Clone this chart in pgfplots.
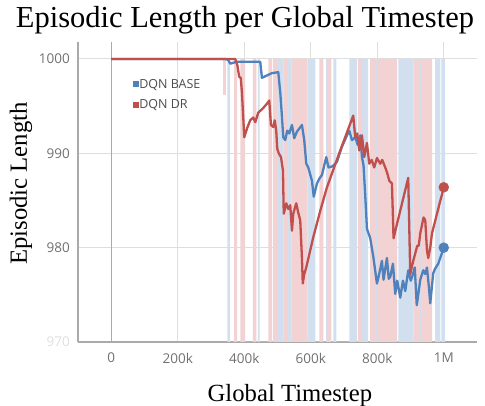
\documentclass[border=0pt]{standalone}
\usepackage{fontspec}
\setmainfont{Liberation Serif}
\newfontfamily\sansf{Open Sans}
\usepackage{pgfplots}
\pgfplotsset{compat=1.18}
\definecolor{bl}{HTML}{4F81BD}
\definecolor{rd}{HTML}{C0504D}
\definecolor{bband}{RGB}{210,223,238}
\definecolor{pband}{RGB}{242,210,210}
\definecolor{gridc}{RGB}{222,222,222}
\definecolor{axc}{RGB}{170,170,170}
\definecolor{tickc}{RGB}{112,112,112}
\begin{document}
\begin{tikzpicture}
\path[use as bounding box] (0,0) rectangle (485pt,406pt);
\begin{axis}[at={(78pt,64pt)}, anchor=south west, scale only axis, width=399pt, height=300pt,
 xmin=-100, xmax=1100, ymin=970, ymax=1001.8,
 axis lines*=left, axis line style={axc, line width=1.2pt},
 xtick={200,400,600,800,1000}, xticklabels={200k,400k,600k,800k,1M},
 extra x ticks={0}, extra x tick labels={0},
 extra x tick style={grid=major, major grid style={axc, line width=1.2pt}},
 ytick={970,980,990,1000}, yticklabels={\textcolor{gray!25}{970},980,990,1000},
 grid=major, major grid style={gridc, line width=1pt},
 major tick length=0pt,
 tick label style={font=\sansf\fontsize{13.5}{14}\selectfont, text=tickc, inner sep=0pt},
 xticklabel style={anchor=north, yshift=-11pt},
 yticklabel style={anchor=east, xshift=-8pt},
 title={Episodic Length per Global Timestep},
 title style={at={(axis description cs:0.4185,1.027)}, anchor=base, font=\fontsize{30.5}{31}\selectfont, inner sep=0pt},
 xlabel={Global Timestep},
 xlabel style={at={(axis description cs:0.531,-0.197)}, anchor=base, font=\fontsize{24.7}{25}\selectfont, inner sep=0pt},
 ylabel={Episodic Length},
 ylabel style={at={(axis description cs:-0.143,0.528)}, anchor=center, font=\fontsize{24.7}{25}\selectfont, inner sep=0pt},
 legend style={at={(axis description cs:0.138,0.877)}, anchor=north west, draw=none, fill=none,
   font=\sansf\fontsize{12.5}{13}\selectfont, text=black!70, inner sep=0pt, row sep=10pt,
   nodes={inner sep=0pt}, /tikz/every even column/.append style={column sep=4pt}},
 legend cell align=left,
 legend image code/.code={\fill[#1, draw=none] (0pt,-3pt) rectangle (6pt,3pt);},
]
% background bands
\addplot[fill=bband, draw=none, forget plot] coordinates {
(348.9,970)(348.9,1000)(356.9,1000)(356.9,970)
(441.2,970)(441.2,1000)(446.0,1000)(446.0,970)
(499.2,970)(499.2,1000)(517.3,1000)(517.3,970)
(529.3,970)(529.3,1000)(541.4,1000)(541.4,970)
(589.5,970)(589.5,1000)(613.6,1000)(613.6,970)
(646.6,970)(646.6,1000)(652.6,1000)(652.6,970)
(667.7,970)(667.7,1000)(676.7,1000)(676.7,970)
(715.8,970)(715.8,1000)(739.8,1000)(739.8,970)
(754.8,970)(754.8,1000)(772.8,1000)(772.8,970)
(793.9,970)(793.9,1000)(799.9,1000)(799.9,970)
(863.2,970)(863.2,1000)(908.3,1000)(908.3,970)
(929.3,970)(929.3,1000)(935.3,1000)(935.3,970)
(974.4,970)(974.4,1000)(989.5,1000)(989.5,970)
(992.5,970)(992.5,1000)(1004.5,1000)(1004.5,970)
} --cycle;
\addplot[fill=pband, draw=none, forget plot] coordinates {
(369.9,970)(369.9,1000)(378.9,1000)(378.9,970)
(388.0,970)(388.0,1000)(403.0,1000)(403.0,970)
(426.2,970)(426.2,1000)(436.1,1000)(436.1,970)
(472.2,970)(472.2,1000)(484.2,1000)(484.2,970)
(487.2,970)(487.2,1000)(499.2,1000)(499.2,970)
(517.3,970)(517.3,1000)(529.3,1000)(529.3,970)
(541.4,970)(541.4,1000)(589.5,1000)(589.5,970)
(625.6,970)(625.6,1000)(637.6,1000)(637.6,970)
(652.6,970)(652.6,1000)(661.7,1000)(661.7,970)
(742.8,970)(742.8,1000)(754.8,1000)(754.8,970)
(778.9,970)(778.9,1000)(793.9,1000)(793.9,970)
(799.9,970)(799.9,1000)(860.1,1000)(860.1,970)
(908.3,970)(908.3,1000)(929.3,1000)(929.3,970)
(935.3,970)(935.3,1000)(965.4,1000)(965.4,970)
} --cycle;
\addplot[fill=pband, draw=none, forget plot] coordinates {
(336.8,996.2)(345.9,996.2)(345.9,1000)(336.8,1000)} --cycle;
% DQN BASE
\addplot[bl, line width=2.3pt, line join=round] coordinates {
(0,1000)(342.9,1000)(351.9,999.9)(357.9,999.5)(366.9,999.6)(378.0,999.7)
(448.1,999.7)(453.2,998.0)(483.3,998.5)(502.3,998.6)(508.4,996.4)(513.4,993.9)
(517.3,991.7)(523.3,991.4)(529.3,992.4)(535.3,992.1)(543.5,993.0)(550.4,991.6)
(558.5,992.3)(573.5,993.0)(580.4,991.4)(586.5,988.9)(592.5,988.5)(603.6,987.1)
(609.0,985.4)(618.6,986.8)(625.6,987.3)(633.7,987.7)(646.6,989.6)(653.5,988.5)
(663.8,988.6)(670.7,988.8)(678.8,989.1)(693.8,990.7)(708.9,991.9)(715.8,992.4)
(723.9,991.4)(733.8,991.7)(741.3,990.9)(748.9,991.9)(754.0,989.6)(758.8,988.7)
(763.9,985.5)(769.0,982.0)(778.9,981.0)(787.9,979.1)(799.1,976.2)(804.5,977.0)
(814.1,978.6)(818.9,976.6)(829.1,978.9)(834.6,976.7)(839.1,976.9)(847.2,978.3)
(854.1,975.1)(860.1,976.5)(869.2,974.7)(877.3,976.5)(884.2,975.4)(893.2,977.6)
(900.7,976.5)(908.3,977.3)(912.8,977.9)(918.8,973.9)(924.8,975.4)(929.3,976.6)
(938.3,977.6)(944.4,977.2)(949.5,977.9)(954.9,976.0)(959.4,974.1)(968.4,977.3)
(974.4,977.8)(983.5,978.3)(1000,980.0)
};
% DQN DR
\addplot[rd, line width=2.3pt, line join=round] coordinates {
(0,1000)(372.9,1000)(378.9,999.4)(385.0,998.1)(389.5,998.0)(393.1,996.4)
(397.0,993.8)(400.0,991.7)(409.0,992.7)(418.0,993.5)(427.1,993.8)(433.1,993.3)
(442.1,994.3)(457.1,994.8)(469.2,995.3)(475.2,995.6)(480.3,993.0)(487.2,992.8)
(491.7,993.5)(496.2,992.4)(499.2,990.5)(503.7,990.0)(510.4,989.6)(516.4,988.2)
(518.8,983.6)(526.3,984.7)(532.3,984.1)(538.3,984.5)(543.5,981.8)(547.4,983.6)
(556.4,984.7)(562.4,983.7)(568.4,982.9)(573.5,978.9)(576.0,976.2)(580.4,977.2)
(586.5,977.9)(607.5,981.1)(628.6,983.9)(648.7,986.4)(688.7,990.3)(727.8,994.0)
(733.8,991.7)(739.8,992.1)(745.8,990.3)(754.0,991.9)(760.9,989.6)(769.0,991.1)
(775.9,988.9)(783.4,989.3)(790.9,988.5)(799.1,989.5)(809.0,988.9)(815.0,989.3)
(824.1,988.5)(830.1,987.9)(836.1,987.1)(844.2,986.8)(849.0,981.0)(893.2,987.4)
(899.2,977.2)(908.3,978.6)(920.3,980.2)(924.8,980.2)(929.3,981.5)(939.2,983.2)
(944.4,982.9)(949.5,979.7)(953.4,978.9)(959.4,980.0)(964.5,981.5)(1000,986.4)
};
\addplot[only marks, mark=*, mark size=5pt, bl, forget plot] coordinates {(1000,980.0)};
\addplot[only marks, mark=*, mark size=5pt, rd, forget plot] coordinates {(1000,986.4)};
\legend{DQN BASE, DQN DR}
\end{axis}
\end{tikzpicture}
\end{document}
